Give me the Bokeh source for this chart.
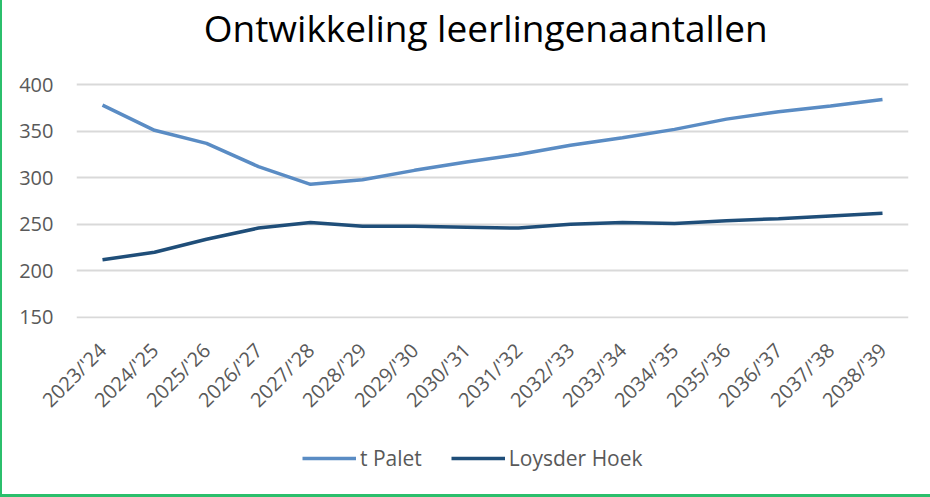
from bokeh.plotting import figure
from bokeh.layouts import column
from bokeh.models import FactorRange, Range1d, Legend, LegendItem, FixedTicker, Label
from bokeh.embed import file_html
from bokeh.resources import INLINE
import math

years = ["2023/'24", "2024/'25", "2025/'26", "2026/'27", "2027/'28", "2028/'29",
         "2029/'30", "2030/'31", "2031/'32", "2032/'33", "2033/'34", "2034/'35",
         "2035/'36", "2036/'37", "2037/'38", "2038/'39"]
t_palet = [378, 351, 337, 312, 293, 298, 308, 317, 325, 335, 343, 352, 363, 371, 377, 384]
loysder_hoek = [212, 220, 234, 246, 252, 248, 248, 247, 246, 250, 252, 251, 254, 256, 259, 262]
y_ticks = [150, 200, 250, 300, 350, 400]
title_text = "Ontwikkeling leerlingenaantallen"

FONT = "Open Sans"
TXT = "#595959"
C1 = "#5A8CC4"
C2 = "#1F4E79"

# main chart (frame extended upward so the title sits inside it)
p = figure(width=928, height=425, x_range=FactorRange(*years), y_range=Range1d(148.9, 490.4),
           output_backend="svg", toolbar_location=None,
           min_border_left=74, min_border_right=22, min_border_top=0, min_border_bottom=104)
p.outline_line_color = None

l1 = p.line(years, t_palet, line_color=C1, line_width=3.5)
l2 = p.line(years, loysder_hoek, line_color=C2, line_width=3.5)

p.yaxis.ticker = FixedTicker(ticks=y_ticks)
p.ygrid.grid_line_color = "#D9D9D9"
p.ygrid.grid_line_width = 2
p.xgrid.grid_line_color = None

for ax in (p.xaxis[0], p.yaxis[0]):
    ax.axis_line_color = None
    ax.major_tick_line_color = None
    ax.minor_tick_line_color = None
    ax.major_label_text_font = FONT
    ax.major_label_text_font_size = "20px"
    ax.major_label_text_color = TXT

p.yaxis.major_label_standoff = 17
p.xaxis.major_label_standoff = 22
p.xaxis.major_label_orientation = math.pi / 4

p.add_layout(Label(x=7.87, y=461, text=title_text, text_font=FONT, text_font_size="37px",
                   text_color="#000000", text_align="center", text_baseline="alphabetic"))

# legend strip
lf = figure(width=928, height=69, x_range=FactorRange(*years), y_range=Range1d(0, 1),
            output_backend="svg", toolbar_location=None,
            x_axis_location=None, y_axis_location=None,
            min_border_left=0, min_border_right=0, min_border_top=0, min_border_bottom=0)
lf.outline_line_color = None
lf.grid.grid_line_color = None
g1 = lf.line(years, t_palet, line_color=C1, line_width=3.5)
g2 = lf.line(years, loysder_hoek, line_color=C2, line_width=3.5)

legend = Legend(items=[LegendItem(label="t Palet", renderers=[g1]),
                       LegendItem(label="Loysder Hoek", renderers=[g2])],
                orientation="horizontal", location=(226, 22),
                glyph_width=54, glyph_height=24, label_standoff=4, spacing=29,
                padding=0, margin=0, border_line_color=None, background_fill_alpha=0,
                label_text_font=FONT, label_text_font_size="21px", label_text_color=TXT)
lf.add_layout(legend, "center")

layout = column(p, lf, spacing=0,
                styles={"border-left": "2px solid #2BBF6C", "border-bottom": "3px solid #2BBF6C"})

open("out.html", "w").write(file_html(layout, INLINE))
